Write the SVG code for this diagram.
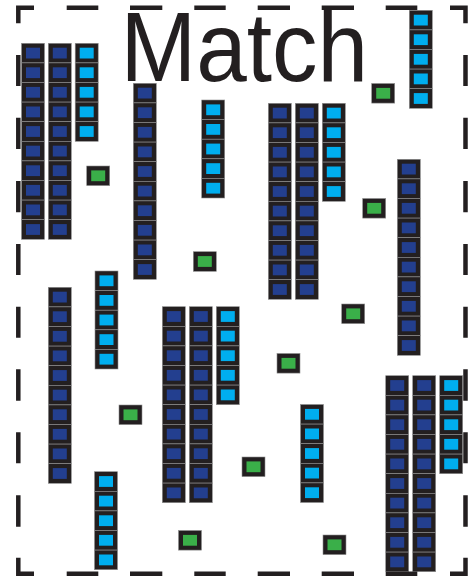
<svg xmlns="http://www.w3.org/2000/svg" xmlns:xlink="http://www.w3.org/1999/xlink" width="474" height="577" viewBox="0 0 474 577">
<style>
.c{fill:#231f20;stroke:#8f8f8f;stroke-width:0.6}
.ib{fill:#233f8f}
.ic{fill:#00aeef}
.ig{fill:#3aaf49}
.border{fill:none;stroke:#231f20;stroke-width:4.5;stroke-linecap:butt;stroke-linejoin:miter}
.title{font-family:"Liberation Sans",Arial,Helvetica,sans-serif;font-size:98px;fill:#231f20}
</style>
<defs>
<g id="b"><rect class="c" width="23" height="19.6"/><rect class="ib" x="4.5" y="4.4" width="14" height="10.8"/></g>
<g id="cy"><rect class="c" width="23" height="19.6"/><rect class="ic" x="4.5" y="4.4" width="14" height="10.8"/></g>
<g id="gr"><rect class="c" width="23" height="19.6"/><rect class="ig" x="4.5" y="4.4" width="14" height="10.8"/></g>
<g id="b10"><use href="#b" y="0"/><use href="#b" y="19.6"/><use href="#b" y="39.2"/><use href="#b" y="58.8"/><use href="#b" y="78.4"/><use href="#b" y="98"/><use href="#b" y="117.6"/><use href="#b" y="137.2"/><use href="#b" y="156.8"/><use href="#b" y="176.4"/></g>
<g id="c5"><use href="#cy" y="0"/><use href="#cy" y="19.6"/><use href="#cy" y="39.2"/><use href="#cy" y="58.8"/><use href="#cy" y="78.4"/></g>
</defs>
<rect width="474" height="577" fill="#ffffff"/>
<g id="title"><text class="title" transform="translate(120.6,81) scale(0.927,1)" x="0" y="0">Match</text></g>
<g id="connectors"></g>
<g id="colA1"><use href="#b10" x="21.5" y="43.3"/></g>
<g id="colA2"><use href="#b10" x="48.3" y="43.3"/></g>
<g id="colA3"><use href="#c5" x="75.2" y="43.3"/></g>
<g id="colB"><use href="#b10" x="133.3" y="83.3"/></g>
<g id="colC"><use href="#c5" x="201.7" y="100"/></g>
<g id="colD1"><use href="#b10" x="268.3" y="103.3"/></g>
<g id="colD2"><use href="#b10" x="295.3" y="103.3"/></g>
<g id="colD3"><use href="#c5" x="322.3" y="103.3"/></g>
<g id="colE"><use href="#c5" x="409.3" y="10.3"/></g>
<g id="colF"><use href="#b10" x="397.3" y="159.3"/></g>
<g id="colG"><use href="#c5" x="95" y="271"/></g>
<g id="colH"><use href="#b10" x="48.3" y="287.3"/></g>
<g id="colI"><use href="#c5" x="94.5" y="471.7"/></g>
<g id="colJ1"><use href="#b10" x="162.3" y="306.7"/></g>
<g id="colJ2"><use href="#b10" x="189.3" y="306.7"/></g>
<g id="colJ3"><use href="#c5" x="216.3" y="306.7"/></g>
<g id="colK"><use href="#c5" x="300.5" y="404.5"/></g>
<g id="colL1"><use href="#b10" x="385.7" y="375.7"/></g>
<g id="colL2"><use href="#b10" x="412.7" y="375.7"/></g>
<g id="colL3"><use href="#c5" x="439.7" y="375.7"/></g>
<g id="g1"><use href="#gr" x="371.7" y="83.5"/></g>
<g id="g2"><use href="#gr" x="86.7" y="166"/></g>
<g id="g3"><use href="#gr" x="362.7" y="198.5"/></g>
<g id="g4"><use href="#gr" x="193.3" y="251.7"/></g>
<g id="g5"><use href="#gr" x="341.7" y="304"/></g>
<g id="g6"><use href="#gr" x="277" y="353.5"/></g>
<g id="g7"><use href="#gr" x="119" y="405"/></g>
<g id="g8"><use href="#gr" x="242" y="457"/></g>
<g id="g9"><use href="#gr" x="178.5" y="530.5"/></g>
<g id="g10"><use href="#gr" x="323" y="535"/></g>
<g id="frame">
<path class="border" d="M18.3,23.3 V7.85 H34 M66.7,7.85 H98.3 M130,7.85 H162.3 M194.3,7.85 H225.7 M257.7,7.85 H290 M321.7,7.85 H354 M385.7,7.85 H417.3 M450,7.85 H465.5 V23.3
M465.5,55 V86 M465.5,117.7 V149 M465.5,181 V212.3 M465.5,244 V275 M465.5,306.7 V337.7 M465.5,369.3 V400.7 M465.5,432.3 V463.3 M465.5,495.3 V526.7
M465.5,557.7 V573.8 H450 M417.3,573.8 H385.7 M354,573.8 H321.7 M290,573.8 H257.7 M225.7,573.8 H194.3 M162.3,573.8 H130 M98.3,573.8 H66.7 M34,573.8 H18.3 V557.7
M18.3,526.7 V495.3 M18.3,463.3 V432.3 M18.3,400.7 V369.3 M18.3,337.7 V306.7 M18.3,275 V244 M18.3,212.3 V181 M18.3,149 V117.7 M18.3,86 V55"/>
</g>
</svg>
